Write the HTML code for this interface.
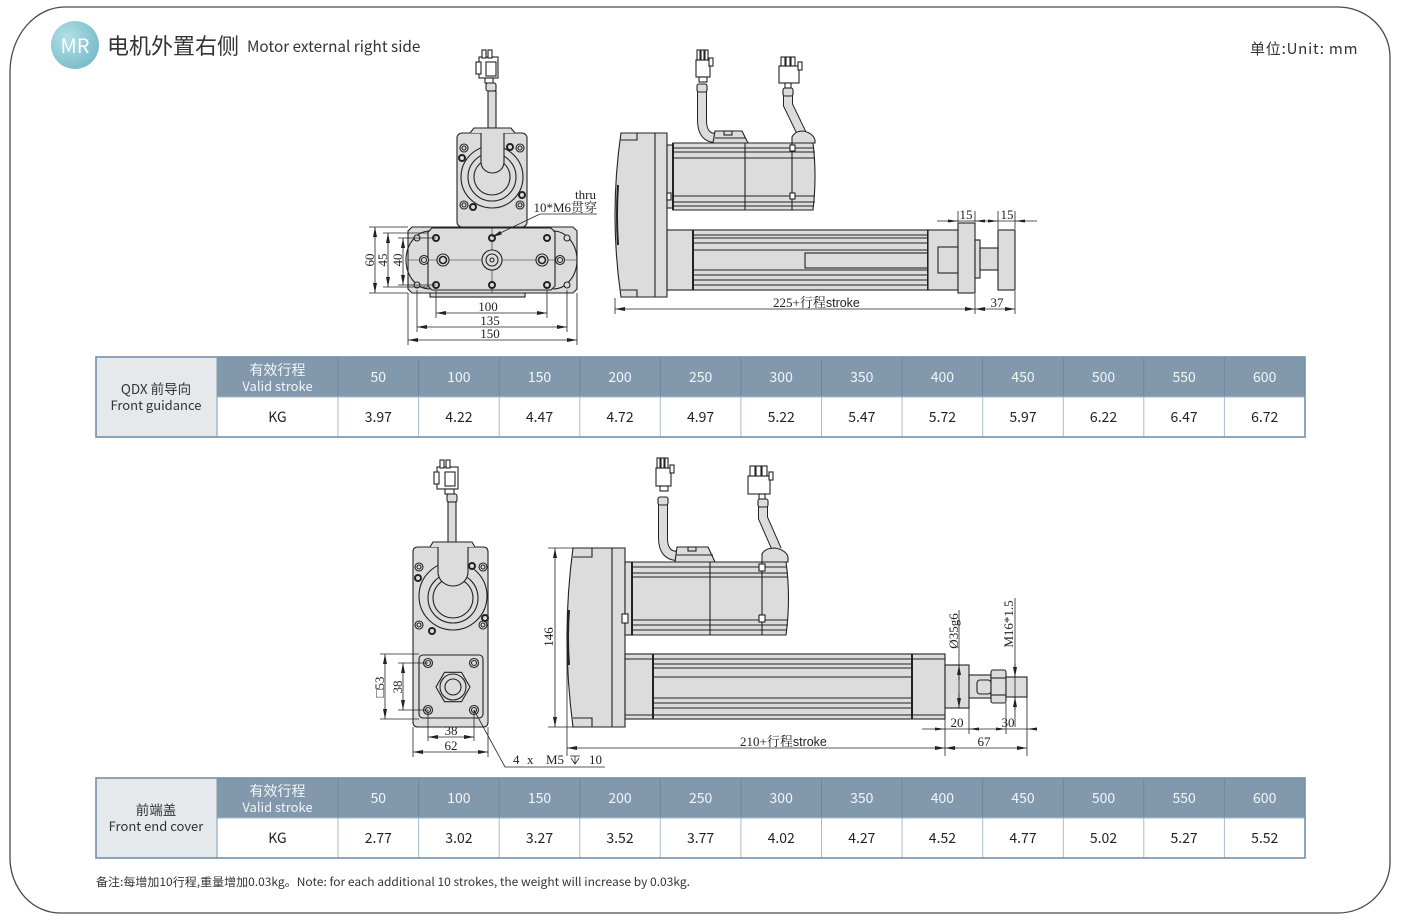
<!DOCTYPE html>
<html><head><meta charset="utf-8">
<style>
html,body{margin:0;padding:0;background:#fff;}
body{width:1406px;height:924px;overflow:hidden;position:relative;}
svg{position:absolute;left:0;top:0;}
.d{font-family:"Liberation Serif","Noto Serif CJK SC",serif;font-size:13px;fill:#222;stroke:none;}
.t{font-family:"Noto Sans CJK SC","Liberation Sans",sans-serif;}
</style></head>
<body>
<svg width="1406" height="924" viewBox="0 0 1406 924" xmlns="http://www.w3.org/2000/svg">
<defs>
<marker id="a" viewBox="0 0 10 4" refX="10" refY="2" markerWidth="10" markerHeight="4" markerUnits="userSpaceOnUse" orient="auto-start-reverse"><path d="M0,0 L10,2 L0,4 Z" fill="#222"/></marker>
<radialGradient id="mr" cx="0.35" cy="0.35" r="0.8"><stop offset="0" stop-color="#b4e0e7"/><stop offset="1" stop-color="#6fb7c5"/></radialGradient>
</defs>

<!-- page border -->
<path d="M66,7 H1338 A52,50 0 0 1 1390,57 V862 A52,51 0 0 1 1338,913 H60 A50,55 0 0 1 10,858 V72 A55,65 0 0 1 66,7 Z" fill="none" stroke="#4a4a4a" stroke-width="1.3"/>

<!-- header -->
<circle cx="75" cy="45" r="24" fill="url(#mr)"/>
<text x="75" y="53" text-anchor="middle" class="t" font-size="20" fill="#fff">MR</text>
<text x="107" y="54" class="t" font-size="22" fill="#333">电机外置右侧</text>
<text x="247" y="52" class="t" font-size="15.3" fill="#333">Motor external right side</text>
<text x="1250" y="54" class="t" font-size="15" fill="#333" letter-spacing="0.8">单位:Unit: mm</text>

<!-- ========== TOP FRONT VIEW ========== -->
<g stroke="#222" stroke-width="1.1" fill="#dcdcdc">
<rect x="479" y="57" width="19" height="21" fill="#fff"/>
<rect x="482" y="50" width="4" height="8" fill="#fff"/>
<rect x="488" y="50" width="4" height="8" fill="#fff"/>
<rect x="476" y="62" width="5" height="12" fill="#fff"/>
<rect x="486" y="62" width="10" height="14" fill="#fff"/>
<rect x="485" y="78" width="8" height="5" fill="#fff"/>
<rect x="486" y="83" width="10" height="8" rx="2"/>
<rect x="488" y="91" width="8" height="37"/>
<rect x="457" y="133" width="70" height="94" rx="5"/>
<path d="M470,133 L474,128 H511 L515,133"/>
<circle cx="492" cy="177" r="31"/>
<circle cx="492" cy="177" r="24"/>
<circle cx="492" cy="177" r="18"/>
<path d="M481,133 V162 A11.5,11 0 0 0 504,162 V133"/>
<circle cx="464" cy="148" r="4"/><circle cx="464" cy="148" r="2"/>
<circle cx="520" cy="148" r="4"/><circle cx="520" cy="148" r="2"/>
<circle cx="464" cy="205" r="4"/><circle cx="464" cy="205" r="2"/>
<circle cx="520" cy="205" r="4"/><circle cx="520" cy="205" r="2"/>
<circle cx="510" cy="147" r="3" stroke-width="2"/>
<circle cx="462" cy="158" r="3" stroke-width="2"/>
<circle cx="522" cy="195" r="3" stroke-width="2"/>
<circle cx="473" cy="207" r="3" stroke-width="2"/>
<!-- base -->
<rect x="430" y="291" width="95" height="6"/>
<path d="M412,227 H573 L577,231 V289 L573,293 H412 L408,289 V231 Z"/>
<path d="M432,228 H551 L555,232 V286 L551,290 H432 L428,286 V232 Z"/>
<path d="M430,231 A24,29 0 0 0 430,289" fill="none"/>
<path d="M553,231 A24,29 0 0 1 553,289" fill="none"/>
<line x1="408" y1="260" x2="577" y2="260" stroke-width="0.6"/>
<line x1="492" y1="227" x2="492" y2="293" stroke-width="0.6"/>
<circle cx="417" cy="238" r="3"/><circle cx="567" cy="238" r="3"/>
<circle cx="417" cy="285" r="3"/><circle cx="567" cy="285" r="3"/>
<circle cx="436" cy="238" r="3" stroke-width="2"/><circle cx="492" cy="238" r="3" stroke-width="2"/><circle cx="547" cy="238" r="3" stroke-width="2"/>
<circle cx="436" cy="285" r="3" stroke-width="2"/><circle cx="492" cy="285" r="3" stroke-width="2"/><circle cx="547" cy="285" r="3" stroke-width="2"/>
<circle cx="424" cy="260" r="4.5"/><circle cx="424" cy="260" r="2.5"/>
<circle cx="560" cy="260" r="4.5"/><circle cx="560" cy="260" r="2.5"/>
<circle cx="443" cy="260" r="6"/><circle cx="443" cy="260" r="3.5" stroke-width="1.6"/>
<circle cx="542" cy="260" r="6"/><circle cx="542" cy="260" r="3.5" stroke-width="1.6"/>
<circle cx="492" cy="260" r="10"/><circle cx="492" cy="260" r="6"/><circle cx="492" cy="260" r="2"/>
</g>
<!-- top front dims -->
<g stroke="#222" stroke-width="0.8" fill="none">
<line x1="369" y1="227" x2="408" y2="227"/><line x1="369" y1="293" x2="408" y2="293"/>
<line x1="383" y1="233" x2="428" y2="233"/><line x1="383" y1="287" x2="428" y2="287"/>
<line x1="398" y1="238" x2="436" y2="238"/><line x1="398" y1="285" x2="436" y2="285"/>
<line x1="375" y1="227" x2="375" y2="293" marker-start="url(#a)" marker-end="url(#a)"/>
<line x1="388" y1="233" x2="388" y2="287" marker-start="url(#a)" marker-end="url(#a)"/>
<line x1="403" y1="238" x2="403" y2="285" marker-start="url(#a)" marker-end="url(#a)"/>
<line x1="436" y1="290" x2="436" y2="318"/><line x1="547" y1="290" x2="547" y2="318"/>
<line x1="417" y1="290" x2="417" y2="332"/><line x1="567" y1="290" x2="567" y2="332"/>
<line x1="408" y1="293" x2="408" y2="345"/><line x1="577" y1="293" x2="577" y2="345"/>
<line x1="436" y1="313" x2="547" y2="313" marker-start="url(#a)" marker-end="url(#a)"/>
<line x1="417" y1="327" x2="567" y2="327" marker-start="url(#a)" marker-end="url(#a)"/>
<line x1="408" y1="340" x2="577" y2="340" marker-start="url(#a)" marker-end="url(#a)"/>
<line x1="540" y1="214" x2="492" y2="237" marker-end="url(#a)"/>
<line x1="540" y1="214" x2="597" y2="214"/>
</g>
<text class="d" transform="translate(374,260) rotate(-90)" text-anchor="middle">60</text>
<text class="d" transform="translate(387,260) rotate(-90)" text-anchor="middle">45</text>
<text class="d" transform="translate(402,260) rotate(-90)" text-anchor="middle">40</text>
<text class="d" x="488" y="311" text-anchor="middle">100</text>
<text class="d" x="490" y="325" text-anchor="middle">135</text>
<text class="d" x="490" y="338" text-anchor="middle">150</text>
<text class="d" x="596" y="199" text-anchor="end" font-family="Liberation Sans,sans-serif" font-size="11.5">thru</text>
<text class="d" x="597" y="212" text-anchor="end">10*M6贯穿</text>

<!-- ========== TOP SIDE VIEW ========== -->
<g stroke="#222" stroke-width="1.1" fill="#dcdcdc">
<path d="M702,84 V120 Q702,138 716,138" fill="none" stroke-width="10"/>
<path d="M702,84 V120 Q702,138 716,138" fill="none" stroke="#dcdcdc" stroke-width="8"/>
<path d="M788,90 V105 L802,134" fill="none" stroke-width="10"/>
<path d="M788,90 V105 L802,134" fill="none" stroke="#dcdcdc" stroke-width="8"/>
<rect x="697" y="84" width="10" height="8" rx="2"/>
<rect x="783" y="88" width="10" height="8" rx="2"/>
<rect x="696" y="60" width="14" height="17" fill="#fff"/>
<rect x="697" y="50" width="3" height="10" fill="#fff"/><rect x="701" y="50" width="3" height="10" fill="#fff"/><rect x="705" y="50" width="3" height="10" fill="#fff"/>
<rect x="709" y="58" width="4" height="8" fill="#fff"/>
<rect x="699" y="77" width="8" height="5" fill="#fff"/>
<rect x="779" y="66" width="20" height="17" fill="#fff"/>
<rect x="781" y="57" width="4" height="9" fill="#fff"/><rect x="786" y="57" width="4" height="9" fill="#fff"/><rect x="791" y="57" width="4" height="9" fill="#fff"/>
<rect x="798" y="62" width="4" height="8" fill="#fff"/>
<rect x="785" y="83" width="6" height="5" fill="#fff"/>
<path d="M621,133 H667 V297 H621 Q609,215 621,133 Z"/>
<line x1="655" y1="133" x2="655" y2="297"/>
<path d="M621,140 H637 V133 M621,290 H637 V297" fill="none"/>
<path d="M618,185 Q616,215 618,245" fill="none" stroke-width="2"/>
<rect x="667" y="145" width="6" height="63"/>
<rect x="667" y="193" width="4" height="7" fill="#fff"/>
<path d="M673,143 H813 Q817,176 813,210 H673 Z"/>
<path d="M673,148 H814 M673,152 H815 M673,158 H815 M673,196 H815 M673,202 H815 M673,206 H814" fill="none"/>
<line x1="673" y1="143" x2="673" y2="210" stroke-width="2"/>
<line x1="745" y1="143" x2="745" y2="210"/>
<line x1="792" y1="143" x2="792" y2="210"/>
<rect x="790" y="145" width="5" height="6" fill="#fff"/>
<rect x="790" y="193" width="5" height="6" fill="#fff"/>
<path d="M713,143 L715,131 H742 L748,143 Z"/>
<line x1="715" y1="138" x2="746" y2="138"/>
<rect x="724" y="131" width="8" height="4"/>
<path d="M792,143 V137 Q795,131 803,131 Q813,133 815,140 V143 Z"/>
<rect x="667" y="230" width="261" height="60"/>
<path d="M693,235 H928 M693,238 H928 M693,243 H928 M693,250 H928 M693,270 H928 M693,275 H928 M693,280 H928 M693,285 H928" fill="none"/>
<line x1="693" y1="230" x2="693" y2="290" stroke-width="2"/>
<rect x="805" y="253" width="133" height="15"/>
<line x1="928" y1="230" x2="928" y2="290" stroke-width="2"/>
<rect x="928" y="230" width="30" height="60"/>
<rect x="938" y="247" width="20" height="26"/>
<rect x="958" y="223" width="17" height="70"/>
<rect x="975" y="240" width="5" height="38"/>
<rect x="980" y="248" width="18" height="22"/>
<rect x="998" y="230" width="17" height="60"/>
</g>
<g stroke="#222" stroke-width="0.8" fill="none">
<line x1="958" y1="222" x2="958" y2="211"/><line x1="975" y1="222" x2="975" y2="211"/>
<line x1="998" y1="229" x2="998" y2="211"/><line x1="1015" y1="229" x2="1015" y2="211"/>
<line x1="937" y1="221" x2="1037" y2="221"/>
<line x1="615" y1="298" x2="615" y2="314"/><line x1="975" y1="294" x2="975" y2="314"/><line x1="1015" y1="291" x2="1015" y2="314"/>
<line x1="615" y1="309" x2="975" y2="309" marker-start="url(#a)" marker-end="url(#a)"/>
<line x1="975" y1="309" x2="1015" y2="309" marker-start="url(#a)" marker-end="url(#a)"/>
</g>
<g fill="#222">
<polygon points="948,219.5 958,221 948,222.5"/><polygon points="985,219.5 975,221 985,222.5"/>
<polygon points="988,219.5 998,221 988,222.5"/><polygon points="1025,219.5 1015,221 1025,222.5"/>
</g>
<text class="d" x="966" y="219" text-anchor="middle">15</text>
<text class="d" x="1007" y="219" text-anchor="middle">15</text>
<text class="d" x="773" y="307">225+行程<tspan font-family="Liberation Sans,sans-serif" font-size="12.5">stroke</tspan></text>
<text class="d" x="997" y="307" text-anchor="middle">37</text>

<!-- ========== TABLE 1 ========== -->
<g class="t">
<rect x="96" y="357" width="121" height="80" fill="#e6e9ec"/>
<rect x="217" y="357" width="1088" height="40" fill="#8299ad"/>
<rect x="217" y="397" width="1088" height="40" fill="#fff"/>
<g stroke="#6a889e" stroke-width="1">
<line x1="338" y1="357" x2="338" y2="397"/><line x1="418.6" y1="357" x2="418.6" y2="397"/><line x1="499.2" y1="357" x2="499.2" y2="397"/><line x1="579.8" y1="357" x2="579.8" y2="397"/><line x1="660.3" y1="357" x2="660.3" y2="397"/><line x1="740.9" y1="357" x2="740.9" y2="397"/><line x1="821.5" y1="357" x2="821.5" y2="397"/><line x1="902.1" y1="357" x2="902.1" y2="397"/><line x1="982.7" y1="357" x2="982.7" y2="397"/><line x1="1063.3" y1="357" x2="1063.3" y2="397"/><line x1="1143.8" y1="357" x2="1143.8" y2="397"/><line x1="1224.4" y1="357" x2="1224.4" y2="397"/>
</g>
<g stroke="#a6bccc" stroke-width="1">
<line x1="338" y1="397" x2="338" y2="437"/><line x1="418.6" y1="397" x2="418.6" y2="437"/><line x1="499.2" y1="397" x2="499.2" y2="437"/><line x1="579.8" y1="397" x2="579.8" y2="437"/><line x1="660.3" y1="397" x2="660.3" y2="437"/><line x1="740.9" y1="397" x2="740.9" y2="437"/><line x1="821.5" y1="397" x2="821.5" y2="437"/><line x1="902.1" y1="397" x2="902.1" y2="437"/><line x1="982.7" y1="397" x2="982.7" y2="437"/><line x1="1063.3" y1="397" x2="1063.3" y2="437"/><line x1="1143.8" y1="397" x2="1143.8" y2="437"/><line x1="1224.4" y1="397" x2="1224.4" y2="437"/>
<line x1="217" y1="397" x2="1305" y2="397"/>
</g>
<line x1="217" y1="357" x2="217" y2="437" stroke="#7f9ab0"/>
<rect x="96" y="357" width="1209" height="80" fill="none" stroke="#7391a8" stroke-width="1.6"/>
<text x="156" y="394" text-anchor="middle" font-size="13.5" fill="#333">QDX  前导向</text>
<text x="156" y="410" text-anchor="middle" font-size="13" fill="#333">Front guidance</text>
<g fill="#f3f6f8" text-anchor="middle">
<text x="277.5" y="375" font-size="14">有效行程</text>
<text x="277.5" y="391" font-size="13">Valid stroke</text>
<g font-size="14">
<text x="378.3" y="382">50</text><text x="458.9" y="382">100</text><text x="539.5" y="382">150</text><text x="620" y="382">200</text><text x="700.6" y="382">250</text><text x="781.2" y="382">300</text><text x="861.8" y="382">350</text><text x="942.4" y="382">400</text><text x="1023" y="382">450</text><text x="1103.5" y="382">500</text><text x="1184.1" y="382">550</text><text x="1264.7" y="382">600</text>
</g></g>
<g fill="#222" text-anchor="middle" font-size="14">
<text x="277.5" y="422">KG</text>
<text x="378.3" y="422">3.97</text><text x="458.9" y="422">4.22</text><text x="539.5" y="422">4.47</text><text x="620" y="422">4.72</text><text x="700.6" y="422">4.97</text><text x="781.2" y="422">5.22</text><text x="861.8" y="422">5.47</text><text x="942.4" y="422">5.72</text><text x="1023" y="422">5.97</text><text x="1103.5" y="422">6.22</text><text x="1184.1" y="422">6.47</text><text x="1264.7" y="422">6.72</text>
</g>
</g>

<!-- ========== BOTTOM FRONT VIEW ========== -->
<g stroke="#222" stroke-width="1.1" fill="#dcdcdc">
<rect x="437" y="467" width="21" height="22" fill="#fff"/>
<rect x="440" y="460" width="4" height="8" fill="#fff"/>
<rect x="446" y="460" width="4" height="8" fill="#fff"/>
<rect x="434" y="472" width="5" height="12" fill="#fff"/>
<rect x="445" y="472" width="10" height="14" fill="#fff"/>
<rect x="445" y="489" width="9" height="5" fill="#fff"/>
<rect x="447" y="494" width="10" height="8" rx="2"/>
<rect x="448" y="502" width="8" height="42"/>
<path d="M418,547 H483 Q488,547 488,552 V722 Q488,727 483,727 H418 Q413,727 413,722 V552 Q413,547 418,547 Z"/>
<path d="M430,547 L433,542 H472 L475,547"/>
<circle cx="453" cy="596" r="34"/>
<circle cx="453" cy="598" r="25"/>
<circle cx="453" cy="598" r="20"/>
<path d="M438,547 V572 A15,14 0 0 0 468,572 V547"/>
<circle cx="419" cy="567" r="4"/><circle cx="419" cy="567" r="2"/>
<circle cx="483" cy="567" r="4"/><circle cx="483" cy="567" r="2"/>
<circle cx="419" cy="625" r="4"/><circle cx="419" cy="625" r="2"/>
<circle cx="483" cy="625" r="4"/><circle cx="483" cy="625" r="2"/>
<circle cx="418" cy="578" r="3" stroke-width="2"/>
<circle cx="472" cy="566" r="3" stroke-width="2"/>
<circle cx="485" cy="618" r="3" stroke-width="2"/>
<circle cx="432" cy="631" r="3" stroke-width="2"/>
<rect x="419" y="655" width="64" height="63" rx="4"/>
<circle cx="428" cy="663" r="4.5"/><circle cx="428" cy="663" r="2.5"/>
<circle cx="474" cy="663" r="4.5"/><circle cx="474" cy="663" r="2.5"/>
<circle cx="428" cy="710" r="4.5"/><circle cx="428" cy="710" r="2.5"/>
<circle cx="474" cy="710" r="4.5"/><circle cx="474" cy="710" r="2.5"/>
<polygon points="470,687 461.5,701.7 444.5,701.7 436,687 444.5,672.3 461.5,672.3"/>
<circle cx="453" cy="687" r="13"/>
<circle cx="453" cy="687" r="8"/>
</g>
<g stroke="#222" stroke-width="0.8" fill="none">
<line x1="380" y1="654" x2="419" y2="654"/><line x1="380" y1="719" x2="419" y2="719"/>
<line x1="398" y1="663" x2="428" y2="663"/><line x1="398" y1="710" x2="428" y2="710"/>
<line x1="385" y1="654" x2="385" y2="719" marker-start="url(#a)" marker-end="url(#a)"/>
<line x1="403" y1="663" x2="403" y2="710" marker-start="url(#a)" marker-end="url(#a)"/>
<line x1="428" y1="710" x2="428" y2="741"/><line x1="474" y1="710" x2="474" y2="741"/>
<line x1="413" y1="727" x2="413" y2="757"/><line x1="488" y1="727" x2="488" y2="757"/>
<line x1="428" y1="737" x2="474" y2="737" marker-start="url(#a)" marker-end="url(#a)"/>
<line x1="413" y1="752" x2="488" y2="752" marker-start="url(#a)" marker-end="url(#a)"/>
<polyline points="474,710 505,767 605,767"/>
<path d="M570,756 H580 M571,758 L575,764 L579,758 M575,756 V764"/>
</g>
<text class="d" transform="translate(384,687) rotate(-90)" text-anchor="middle">□53</text>
<text class="d" transform="translate(402,687) rotate(-90)" text-anchor="middle">38</text>
<text class="d" x="451" y="735" text-anchor="middle">38</text>
<text class="d" x="451" y="750" text-anchor="middle">62</text>
<text class="d" x="513" y="764">4</text>
<text class="d" x="527" y="764">x</text>
<text class="d" x="546" y="764">M5</text>
<text class="d" x="589" y="764">10</text>

<!-- ========== BOTTOM SIDE VIEW ========== -->
<g stroke="#222" stroke-width="1.1" fill="#dcdcdc">
<path d="M663,498 V538 Q663,556 678,556" fill="none" stroke-width="10"/>
<path d="M663,498 V538 Q663,556 678,556" fill="none" stroke="#dcdcdc" stroke-width="8"/>
<path d="M763,500 V518 L777,550" fill="none" stroke-width="10"/>
<path d="M763,500 V518 L777,550" fill="none" stroke="#dcdcdc" stroke-width="8"/>
<rect x="658" y="497" width="10" height="8" rx="2"/>
<rect x="758" y="499" width="10" height="8" rx="2"/>
<rect x="656" y="468" width="15" height="18" fill="#fff"/>
<rect x="657" y="458" width="3" height="10" fill="#fff"/><rect x="661" y="458" width="3" height="10" fill="#fff"/><rect x="665" y="458" width="3" height="10" fill="#fff"/>
<rect x="670" y="465" width="4" height="8" fill="#fff"/>
<rect x="660" y="486" width="8" height="5" fill="#fff"/>
<rect x="748" y="476" width="22" height="18" fill="#fff"/>
<rect x="750" y="466" width="5" height="10" fill="#fff"/><rect x="756" y="466" width="5" height="10" fill="#fff"/><rect x="762" y="466" width="5" height="10" fill="#fff"/>
<rect x="769" y="472" width="4" height="8" fill="#fff"/>
<rect x="759" y="494" width="6" height="5" fill="#fff"/>
<path d="M573,548 H625 V727 H573 Q561,637 573,548 Z"/>
<line x1="612" y1="548" x2="612" y2="727"/>
<path d="M573,557 H592 V548 M573,718 H592 V727" fill="none"/>
<path d="M569,610 Q567,637 569,665" fill="none" stroke-width="2"/>
<rect x="625" y="562" width="7" height="73"/>
<rect x="622" y="614" width="6" height="9" fill="#fff"/>
<path d="M632,562 H786 Q791,598 786,635 H632 Z"/>
<path d="M632,567 H787 M632,573 H788 M632,577 H788 M632,620 H788 M632,625 H788 M632,630 H787" fill="none"/>
<line x1="632" y1="562" x2="632" y2="635" stroke-width="2"/>
<line x1="710" y1="562" x2="710" y2="635"/>
<line x1="762" y1="562" x2="762" y2="635"/>
<rect x="759" y="564" width="6" height="7" fill="#fff"/>
<rect x="759" y="615" width="6" height="7" fill="#fff"/>
<path d="M675,562 L677,547 H708 L715,562 Z"/>
<line x1="676" y1="555" x2="713" y2="555"/>
<rect x="688" y="547" width="8" height="4"/>
<path d="M762,562 V554 Q765,548 775,548 Q786,550 788,557 V562 Z"/>
<rect x="625" y="654" width="320" height="65"/>
<line x1="625" y1="659" x2="945" y2="659"/>
<line x1="625" y1="715" x2="945" y2="715"/>
<path d="M653,664 H912 M653,668 H912 M653,677 H912 M653,698 H912 M653,703 H912 M653,708 H912" fill="none"/>
<line x1="653" y1="654" x2="653" y2="719" stroke-width="2"/>
<line x1="912" y1="654" x2="912" y2="719" stroke-width="2"/>
<rect x="945" y="665" width="24" height="43"/>
<rect x="969" y="675" width="22" height="23"/>
<rect x="977" y="680" width="14" height="14" rx="3"/>
<rect x="991" y="670" width="15" height="33" rx="2"/>
<line x1="991" y1="678" x2="1006" y2="678"/><line x1="991" y1="695" x2="1006" y2="695"/>
<rect x="1006" y="677" width="21" height="20"/>
</g>
<g stroke="#222" stroke-width="0.8" fill="none">
<line x1="548" y1="548" x2="573" y2="548"/><line x1="548" y1="727" x2="573" y2="727"/>
<line x1="555" y1="548" x2="555" y2="727" marker-start="url(#a)" marker-end="url(#a)"/>
<line x1="567" y1="640" x2="567" y2="756"/>
<line x1="945" y1="719" x2="945" y2="756"/>
<line x1="969" y1="708" x2="969" y2="734"/>
<line x1="1006" y1="703" x2="1006" y2="734"/>
<line x1="1027" y1="697" x2="1027" y2="756"/>
<line x1="959" y1="610" x2="959" y2="708"/>
<line x1="959" y1="680" x2="959" y2="665" marker-end="url(#a)"/>
<line x1="959" y1="693" x2="959" y2="708" marker-end="url(#a)"/>
<line x1="1015" y1="598" x2="1015" y2="727"/>
<line x1="1015" y1="664" x2="1015" y2="677" marker-end="url(#a)"/>
<line x1="1015" y1="710" x2="1015" y2="697" marker-end="url(#a)"/>
<line x1="922" y1="729" x2="1035" y2="729"/>
<line x1="567" y1="748" x2="945" y2="748" marker-start="url(#a)" marker-end="url(#a)"/>
<line x1="945" y1="748" x2="1027" y2="748" marker-start="url(#a)" marker-end="url(#a)"/>
</g>
<g fill="#222">
<polygon points="935,727.5 945,729 935,730.5"/><polygon points="979,727.5 969,729 979,730.5"/>
<polygon points="996,727.5 1006,729 996,730.5"/><polygon points="1037,727.5 1027,729 1037,730.5"/>
</g>
<text class="d" transform="translate(553,637) rotate(-90)" text-anchor="middle">146</text>
<text class="d" transform="translate(958,631) rotate(-90)" text-anchor="middle">Ø35g6</text>
<text class="d" transform="translate(1013,624) rotate(-90)" text-anchor="middle">M16*1.5</text>
<text class="d" x="957" y="727" text-anchor="middle">20</text>
<text class="d" x="1008" y="727" text-anchor="middle">30</text>
<text class="d" x="984" y="746" text-anchor="middle">67</text>
<text class="d" x="740" y="746">210+行程<tspan font-family="Liberation Sans,sans-serif" font-size="12.5">stroke</tspan></text>

<!-- ========== TABLE 2 ========== -->
<g class="t">
<rect x="96" y="778" width="121" height="80" fill="#e6e9ec"/>
<rect x="217" y="778" width="1088" height="40" fill="#8299ad"/>
<rect x="217" y="818" width="1088" height="40" fill="#fff"/>
<g stroke="#6a889e" stroke-width="1">
<line x1="338" y1="778" x2="338" y2="818"/><line x1="418.6" y1="778" x2="418.6" y2="818"/><line x1="499.2" y1="778" x2="499.2" y2="818"/><line x1="579.8" y1="778" x2="579.8" y2="818"/><line x1="660.3" y1="778" x2="660.3" y2="818"/><line x1="740.9" y1="778" x2="740.9" y2="818"/><line x1="821.5" y1="778" x2="821.5" y2="818"/><line x1="902.1" y1="778" x2="902.1" y2="818"/><line x1="982.7" y1="778" x2="982.7" y2="818"/><line x1="1063.3" y1="778" x2="1063.3" y2="818"/><line x1="1143.8" y1="778" x2="1143.8" y2="818"/><line x1="1224.4" y1="778" x2="1224.4" y2="818"/>
</g>
<g stroke="#a6bccc" stroke-width="1">
<line x1="338" y1="818" x2="338" y2="858"/><line x1="418.6" y1="818" x2="418.6" y2="858"/><line x1="499.2" y1="818" x2="499.2" y2="858"/><line x1="579.8" y1="818" x2="579.8" y2="858"/><line x1="660.3" y1="818" x2="660.3" y2="858"/><line x1="740.9" y1="818" x2="740.9" y2="858"/><line x1="821.5" y1="818" x2="821.5" y2="858"/><line x1="902.1" y1="818" x2="902.1" y2="858"/><line x1="982.7" y1="818" x2="982.7" y2="858"/><line x1="1063.3" y1="818" x2="1063.3" y2="858"/><line x1="1143.8" y1="818" x2="1143.8" y2="858"/><line x1="1224.4" y1="818" x2="1224.4" y2="858"/>
<line x1="217" y1="818" x2="1305" y2="818"/>
</g>
<line x1="217" y1="778" x2="217" y2="858" stroke="#7f9ab0"/>
<rect x="96" y="778" width="1209" height="80" fill="none" stroke="#7391a8" stroke-width="1.6"/>
<text x="156" y="815" text-anchor="middle" font-size="13.5" fill="#333">前端盖</text>
<text x="156" y="831" text-anchor="middle" font-size="13" fill="#333">Front end cover</text>
<g fill="#f3f6f8" text-anchor="middle">
<text x="277.5" y="796" font-size="14">有效行程</text>
<text x="277.5" y="812" font-size="13">Valid stroke</text>
<g font-size="14">
<text x="378.3" y="803">50</text><text x="458.9" y="803">100</text><text x="539.5" y="803">150</text><text x="620" y="803">200</text><text x="700.6" y="803">250</text><text x="781.2" y="803">300</text><text x="861.8" y="803">350</text><text x="942.4" y="803">400</text><text x="1023" y="803">450</text><text x="1103.5" y="803">500</text><text x="1184.1" y="803">550</text><text x="1264.7" y="803">600</text>
</g></g>
<g fill="#222" text-anchor="middle" font-size="14">
<text x="277.5" y="843">KG</text>
<text x="378.3" y="843">2.77</text><text x="458.9" y="843">3.02</text><text x="539.5" y="843">3.27</text><text x="620" y="843">3.52</text><text x="700.6" y="843">3.77</text><text x="781.2" y="843">4.02</text><text x="861.8" y="843">4.27</text><text x="942.4" y="843">4.52</text><text x="1023" y="843">4.77</text><text x="1103.5" y="843">5.02</text><text x="1184.1" y="843">5.27</text><text x="1264.7" y="843">5.52</text>
</g>
</g>

<!-- footer -->
<text x="96" y="886" class="t" font-size="11.5" fill="#333" textLength="594" lengthAdjust="spacingAndGlyphs">备注:每增加10行程,重量增加0.03kg。Note: for each additional 10 strokes, the weight will increase by 0.03kg.</text>
</svg>
</body></html>
